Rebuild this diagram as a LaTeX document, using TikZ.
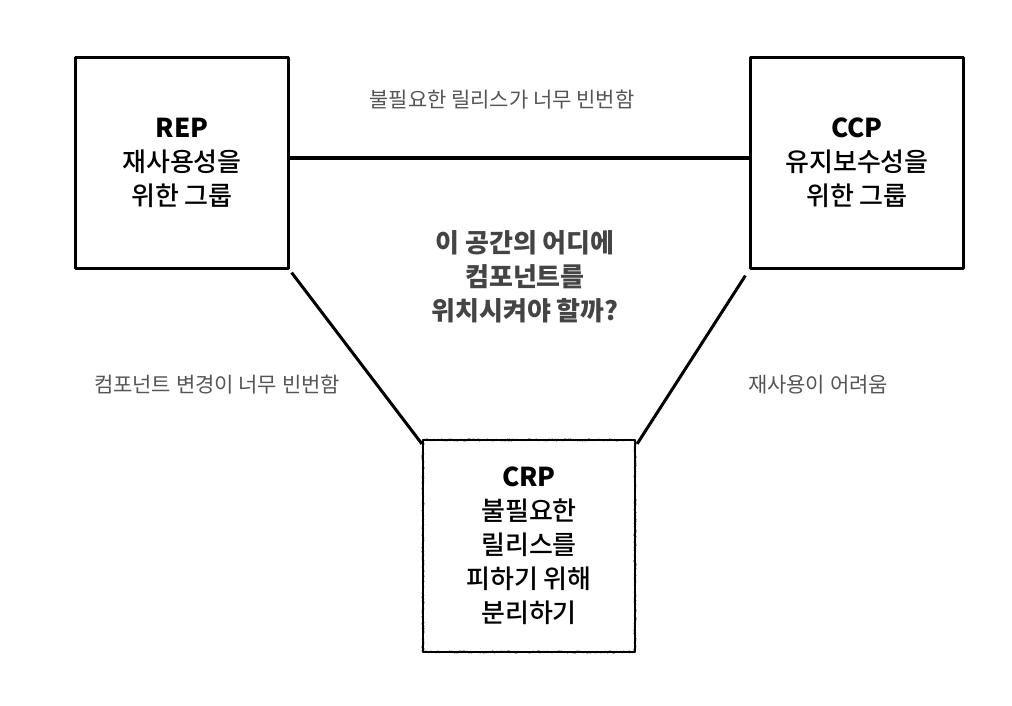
\documentclass[tikz,border=0pt]{standalone}
\usepackage{fontspec}
\setmainfont{Noto Sans CJK KR}
\newfontfamily\krmedium{Noto Sans CJK KR Medium}
\usepackage{xcolor}
\usepackage{tikz}
\usetikzlibrary{positioning, decorations.pathmorphing}
\tikzset{
    boxnode/.style = {draw, rectangle, line width=2.2pt, line join=round, minimum width=213pt, minimum height=211pt,
      inner sep=0pt, node distance=0em, font=\krmedium\fontsize{26}{34}\selectfont,
      postaction={draw, line width=1.3pt, decorate,
        decoration={random steps, segment length=1pt, amplitude=0.8pt}}},
    textnode/.style  = {draw=none, fill=none, rectangle, inner sep=0em, node distance=0em},
    labelnode/.style = {textnode, font=\fontsize{21}{26}\selectfont, color=labelgray},
    asknode/.style = {textnode, font=\bfseries\fontsize{26}{34}\selectfont, color=askgray},
    connect/.style = {black, line width=3.5pt},
    every text node part/.style={align=center}
}
\definecolor{labelgray}{HTML}{555555}
\definecolor{askgray}{HTML}{444444}

\begin{document}
\begin{tikzpicture}[x=1pt, y=1pt]
\pgfmathsetseed{7}
\useasboundingbox (0,0) rectangle (1012,706);

\node [boxnode, name = rep] at (182,543) {\textbf{REP}\\재사용성을\\위한 그룹};
\node [boxnode, name = ccp, right of = rep, xshift=675pt] {\textbf{CCP}\\유지보수성을\\위한 그룹};
\node [boxnode, name = crp, right of = rep, xshift=347pt, yshift=-383pt, minimum width=212pt, minimum height=212pt]
    {\textbf{CRP}\\불필요한\\릴리스를\\피하기 위해\\분리하기};

\draw [connect] ([yshift=5pt]rep.east) -- ([yshift=5pt]ccp.west);
\draw [connect, line width=3pt] ([shift={(2pt,-3pt)}]rep.south east) -- ([shift={(0pt,-5pt)}]crp.north west);
\draw [connect, line width=3pt] ([shift={(-4pt,-6pt)}]ccp.south west) -- ([shift={(1pt,-5pt)}]crp.north east);

\node [labelnode, name = toooften, right of = rep, xshift=320pt, yshift=63pt] {불필요한 릴리스가 너무 빈번함};
\node [labelnode, name = changes, right of = rep, xshift=35pt, yshift=-222pt] {컴포넌트 변경이 너무 빈번함};
\node [labelnode, name = hardreuse, right of = ccp, xshift=-39pt, yshift=-222pt] {재사용이 어려움};
\node [asknode, name = where, right of = rep, xshift=343pt, yshift=-114pt] {이 공간의 어디에\\컴포넌트를\\위치시켜야 할까?};

\end{tikzpicture}
\end{document}
